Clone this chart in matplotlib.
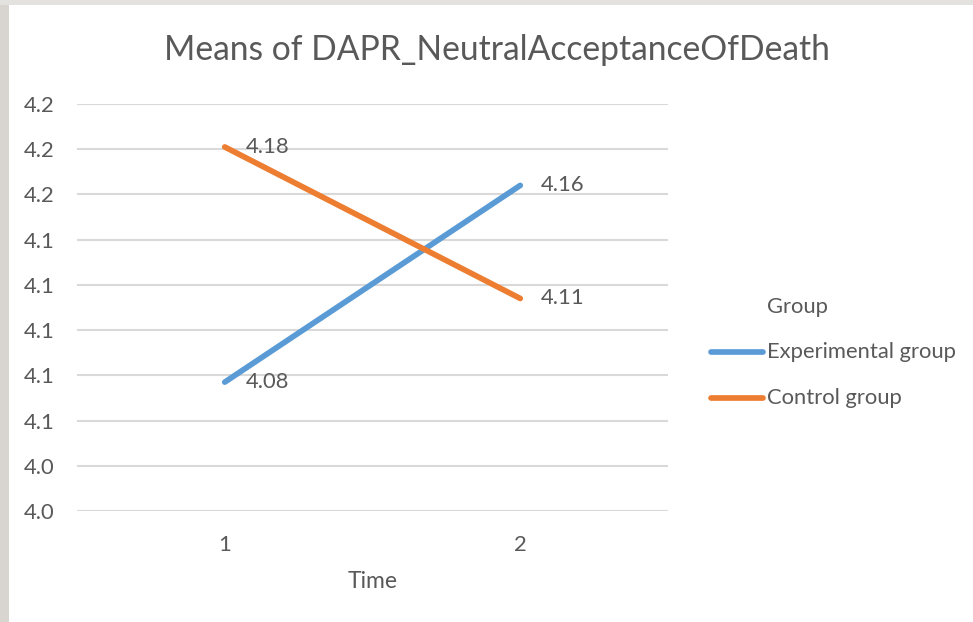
import matplotlib
matplotlib.use("Agg")
import matplotlib.pyplot as plt
from matplotlib.lines import Line2D
from matplotlib.patches import Rectangle
from matplotlib.ticker import FixedLocator, FuncFormatter
import numpy as np

plt.rcParams['font.family'] = ['Lato', 'DejaVu Sans']

# ---- data ----
time_points = ["1", "2"]
series_names = ["Experimental group", "Control group"]
experimental = [4.077, 4.164]
control = [4.181, 4.114]
experimental_labels = ["4.08", "4.16"]
control_labels = ["4.18", "4.11"]
y_ticks = [4.02, 4.04, 4.06, 4.08, 4.10, 4.12, 4.14, 4.16, 4.18, 4.20]

title = "Means of DAPR_NeutralAcceptanceOfDeath"
x_label = "Time"
legend_title = "Group"

colors = ["#5B9BD5", "#ED7D31"]
text_color = "#595959"
W, H = 973, 622
fs = 15.8

fig = plt.figure(figsize=(W / 100, H / 100), dpi=100)
fig.patch.set_facecolor("white")

# window-like border strips
fig.patches.append(Rectangle((0, 0), 9 / W, 1, transform=fig.transFigure,
                             facecolor="#d8d5d0", edgecolor="none", zorder=0))
fig.patches.append(Rectangle((0, 1 - 5 / H), 1, 5 / H, transform=fig.transFigure,
                             facecolor="#e4e2de", edgecolor="none", zorder=0))

left, right = 77 / W, 668 / W
bottom, top = 1 - 511 / H, 1 - 104 / H
ax = fig.add_axes([left, bottom, right - left, top - bottom])
ax.set_facecolor("none")

x = np.arange(1, len(time_points) + 1)
for vals, labs, c in zip([experimental, control],
                         [experimental_labels, control_labels], colors):
    ax.plot(x, vals, color=c, lw=4.1, solid_capstyle="round", zorder=3)
    for xi, v, lab in zip(x, vals, labs):
        ax.annotate(lab, (xi, v), xytext=(15, 0), textcoords="offset points",
                    ha="left", va="center", fontsize=fs, color=text_color,
                    zorder=4)

ax.set_xlim(0.5, len(time_points) + 0.5)
ax.set_ylim(y_ticks[0], y_ticks[-1])
ax.yaxis.set_major_locator(FixedLocator(y_ticks))
ax.yaxis.set_major_formatter(FuncFormatter(lambda v, p: f"{v:.1f}"))
ax.set_xticks(x)
ax.set_xticklabels(time_points)
ax.grid(axis="y", color="#d9d9d9", lw=1.5, zorder=1)
ax.set_axisbelow(True)
for s in ax.spines.values():
    s.set_visible(False)
ax.tick_params(axis="both", length=0, labelsize=fs, colors=text_color)
ax.tick_params(axis="y", pad=16)
ax.tick_params(axis="x", pad=17)
for lbl in ax.get_xticklabels() + ax.get_yticklabels():
    lbl.set_color(text_color)

fig.text((left + right) / 2, 1 - 581 / H, x_label, ha="center", va="center",
         fontsize=16.5, color=text_color)
fig.text(497 / W, 1 - 50 / H, title, ha="center", va="center",
         fontsize=24.2, color=text_color)

# legend
fig.text(767 / W, 1 - 307 / H, legend_title, ha="left", va="center",
         fontsize=fs, color=text_color)
for i, (name, c) in enumerate(zip(series_names, colors)):
    yy = 1 - (352 + 46 * i) / H
    fig.lines.append(Line2D([711 / W, 763 / W], [yy, yy], transform=fig.transFigure,
                            color=c, lw=4.1, solid_capstyle="round"))
    fig.text(767 / W, yy, name, ha="left", va="center", fontsize=fs,
             color=text_color)

fig.savefig("out.png", dpi=100)
